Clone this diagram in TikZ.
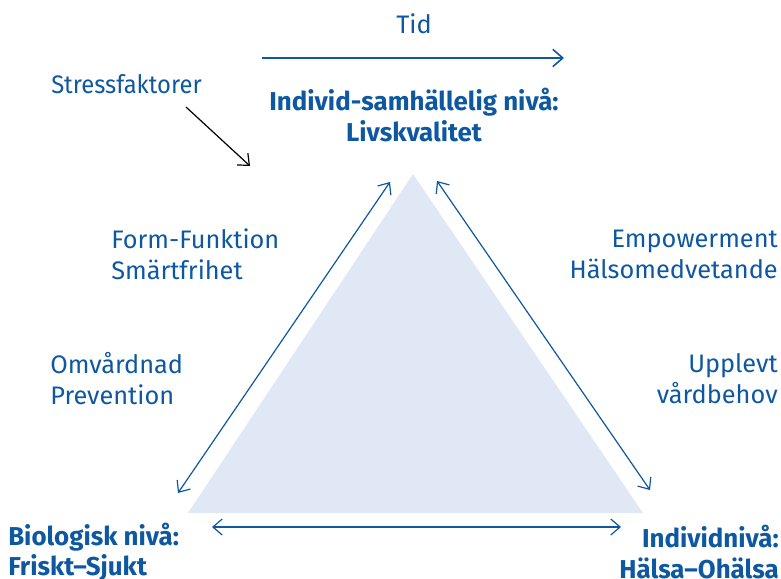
\documentclass[tikz,border=0pt]{standalone}
\usepackage{fontspec}
\setmainfont{Fira Sans}
\usetikzlibrary{arrows.meta}
\begin{document}
\begin{tikzpicture}[x=0.75pt,y=-0.75pt,
 txt/.style={text=blueink,font=\fontsize{19}{23.3}\selectfont,inner sep=0pt},
 head/.style={txt,font=\fontsize{19.4}{22.6}\selectfont\bfseries},
 link/.style={draw=blueink,line width=0.9pt,{Straight Barb[length=7pt,width=12pt]}-{Straight Barb[length=7pt,width=12pt]}}]
 \definecolor{blueink}{HTML}{0D58A0}
 \definecolor{fillpale}{HTML}{E1E8F5}
 \useasboundingbox (0,0) rectangle (781,578);
 % the triangle
 \fill [fillpale] (413,174) -- (643,513) -- (188,513) -- cycle;
 % levels at the corners
 \node [head,align=center] (top) at (414,115) {Individ-samhällelig nivå:\\Livskvalitet};
 \node [head,align=left,anchor=west] (bio) at (8,552) {Biologisk nivå:\\Friskt–Sjukt};
 \node [head,align=right,anchor=east] (ind) at (779,552) {Individnivå:\\Hälsa–Ohälsa};
 % side texts
 \node [txt,align=left,anchor=west] (form) at (111,254) {Form-Funktion\\Smärtfrihet};
 \node [txt,align=left,anchor=west] (omv) at (50,379) {Omvårdnad\\Prevention};
 \node [txt,align=right,anchor=east] (emp) at (778,254) {Empowerment\\Hälsomedvetande};
 \node [txt,align=right,anchor=east] (upp) at (778,379) {Upplevt\\vårdbehov};
 \node [txt] (tid) at (414,24) {Tid};
 \node [txt,anchor=west,font=\fontsize{19}{23.3}\selectfont\addfontfeatures{FakeStretch=0.94}] (stress) at (51,84) {Stressfaktorer};
 % arrow ends
 \coordinate (tidA) at (262,58);
 \coordinate (tidB) at (564,58);
 \coordinate (stressA) at (186,107);
 \coordinate (stressB) at (250,166);
 \coordinate (leftA) at (178,493);
 \coordinate (leftB) at (390,182);
 \coordinate (rightA) at (437,181);
 \coordinate (rightB) at (650,490);
 \coordinate (baseA) at (212,527);
 \coordinate (baseB) at (621,527);
 % arrows
 \draw [draw=blueink,line width=1.2pt,-{Straight Barb[length=7.5pt,width=13pt]}] (tidA) -- (tidB);
 \draw [black,line width=0.9pt,-{Straight Barb[length=7pt,width=12pt]}] (stressA) -- (stressB);
 \draw [link] (leftA) -- (leftB);
 \draw [link] (rightA) -- (rightB);
 \draw [link] (baseA) -- (baseB);
\end{tikzpicture}
\end{document}
